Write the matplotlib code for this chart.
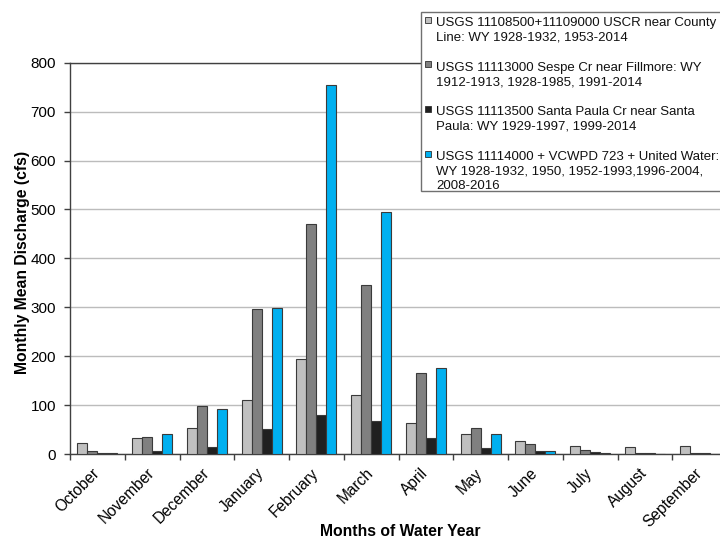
import matplotlib
matplotlib.use("Agg")
import matplotlib.pyplot as plt
import numpy as np
from matplotlib.patches import Rectangle

plt.rcParams['font.family'] = ['Liberation Sans', 'DejaVu Sans']

months = ["October", "November", "December", "January", "February", "March",
          "April", "May", "June", "July", "August", "September"]

uscr_county_line = [22, 33, 53, 110, 195, 121, 64, 41, 26, 16, 14, 16]
sespe_fillmore   = [7, 34, 98, 296, 471, 346, 165, 54, 20, 8, 3, 3]
santa_paula      = [3, 6, 15, 52, 79, 67, 33, 13, 7, 5, 3, 3]
uscr_combined    = [3, 41, 92, 298, 754, 494, 175, 40, 7, 3, 1, 1]

series = [uscr_county_line, sespe_fillmore, santa_paula, uscr_combined]
colors = ["#c0c0c0", "#808080", "#202020", "#00b0f0"]
labels = [
    "USGS 11108500+11109000 USCR near County\nLine: WY 1928-1932, 1953-2014",
    "USGS 11113000 Sespe Cr near Fillmore: WY\n1912-1913, 1928-1985, 1991-2014",
    "USGS 11113500 Santa Paula Cr near Santa\nPaula: WY 1929-1997, 1999-2014",
    "USGS 11114000 + VCWPD 723 + United Water:\nWY 1928-1932, 1950, 1952-1993,1996-2004,\n2008-2016",
]

W, H = 720, 541
fig = plt.figure(figsize=(W / 100, H / 100), dpi=100)
ax_top, ax_bot, ax_left, ax_right = 62.7, 454, 70, 727
ax = fig.add_axes([ax_left / W, (H - ax_bot) / H, (ax_right - ax_left) / W,
                   (ax_bot - ax_top) / H])

x = np.arange(len(months))
bw = 0.183
for i, (vals, c) in enumerate(zip(series, colors)):
    ax.bar(x + (i - 1.5) * bw, vals, width=bw, color=c, edgecolor="#3a3a3a",
           linewidth=0.8, zorder=3)

ax.set_xlim(-0.5, len(months) - 0.5)
ax.set_ylim(0, 800)
ax.set_yticks(np.arange(0, 801, 100))
ax.yaxis.grid(True, color="#bcbcbc", linewidth=1.0, zorder=0)
ax.set_axisbelow(True)

ax.set_xticks(x)
ax.set_xticklabels(months, rotation=45, ha="right", va="center",
                   rotation_mode="anchor", fontsize=11.2)
ax.tick_params(axis="x", which="major", length=0, pad=12)
ax.set_xticks(np.arange(-0.5, len(months), 1), minor=True)
ax.tick_params(axis="x", which="minor", length=4, width=1, color="#404040",
               direction="out")
ax.tick_params(axis="y", length=4, width=1, color="#404040", labelsize=11,
               pad=6)

for s in ["left", "bottom", "top"]:
    ax.spines[s].set_color("#404040")
    ax.spines[s].set_linewidth(1.0)
ax.spines["right"].set_visible(False)

ax.set_ylabel("Monthly Mean Discharge (cfs)", fontsize=11.3, fontweight="bold",
              va="center")
ax.yaxis.set_label_coords((23 - ax_left) / (ax_right - ax_left),
                          (ax_bot - 262) / (ax_bot - ax_top))
ax.set_xlabel("Months of Water Year", fontsize=11.3, fontweight="bold",
              va="center")
ax.xaxis.set_label_coords((400 - ax_left) / (ax_right - ax_left),
                          -(531 - ax_bot) / (ax_bot - ax_top))

# Legend drawn in figure pixel coordinates
def fx(px):
    return px / W

def fy(py):
    return 1 - py / H

frame = Rectangle((fx(421), fy(190.7)), fx(740) - fx(421), fy(12.3) - fy(190.7),
                  transform=fig.transFigure, facecolor="white", edgecolor="#707070",
                  linewidth=1.0, zorder=10)
fig.patches.append(frame)

line_step = 14.6
entry_step = 44.7
for k, (lab, c) in enumerate(zip(labels, colors)):
    base = 26 + k * entry_step
    sq = Rectangle((fx(425), fy(base - 3.3)), fx(6), fy(0) - fy(6),
                   transform=fig.transFigure, facecolor=c, edgecolor="#303030",
                   linewidth=0.6, zorder=11)
    fig.patches.append(sq)
    for j, line in enumerate(lab.split("\n")):
        fig.text(fx(436), fy(base + j * line_step), line, fontsize=9.5,
                 va="baseline", ha="left", zorder=12, color="#111111")

fig.savefig("out.png", dpi=100)
